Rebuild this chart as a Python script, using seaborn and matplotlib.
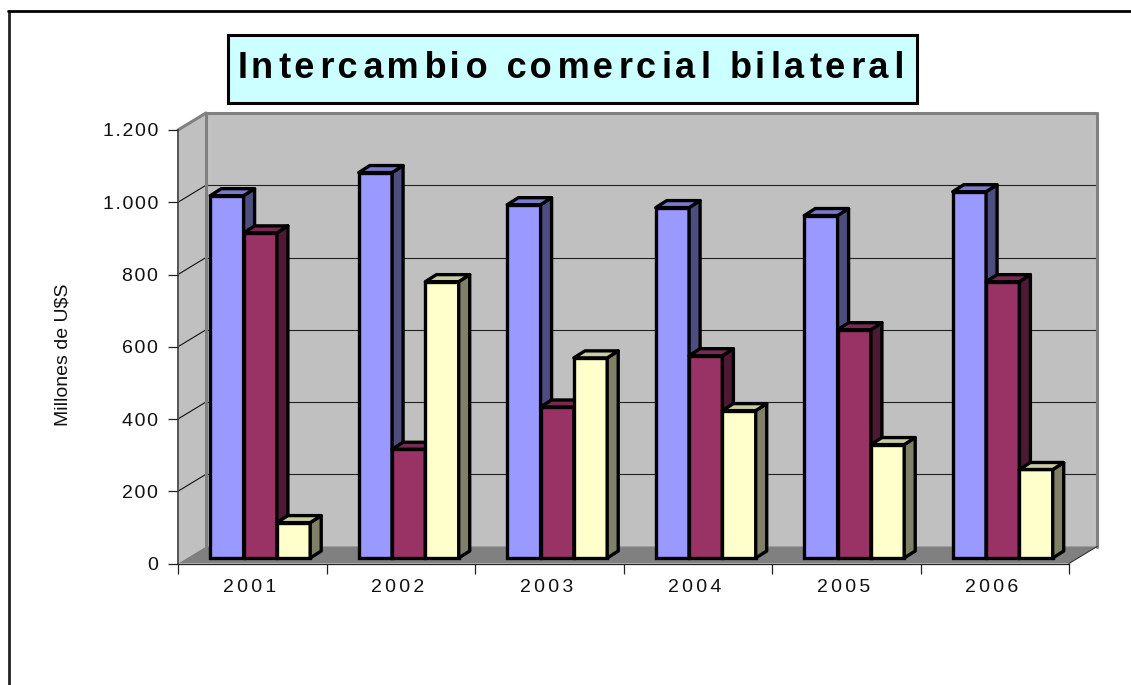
import numpy as np
import pandas as pd
import matplotlib
matplotlib.use("Agg")
import matplotlib.pyplot as plt
import seaborn as sns
from matplotlib.lines import Line2D
from matplotlib.patches import Polygon, Rectangle
from matplotlib.transforms import Affine2D, IdentityTransform

years = ["2001", "2002", "2003", "2004", "2005", "2006"]
series_a = [1003, 1067, 978, 970, 948, 1014]
series_b = [900, 301, 418, 560, 632, 765]
series_c = [98, 765, 554, 408, 314, 245]
y_ticks = [0, 200, 400, 600, 800, 1000, 1200]
y_tick_labels = ["0", "200", "400", "600", "800", "1.000", "1.200"]
title = "Intercambio comercial bilateral"
y_title = "Millones de U$S"

front_colors = ["#9999FF", "#993366", "#FFFFCC"]
side_colors = ["#4D4D80", "#4D1933", "#808066"]
top_colors = ["#7A7ACC", "#7A2952", "#CCCCA3"]

W, H = 1131, 685
sns.set_style("white")
plt.rcParams["font.family"] = ["Liberation Sans", "DejaVu Sans"]


def spaced(s, sp="\u200a"):
    return sp.join(s)


def spaced_alt(s):
    # every other gap is doubled, the hair space alone is too narrow for the title
    out = ""
    for i, c in enumerate(s[:-1]):
        out += c + ("\u200a\u200a" if i % 2 else "\u200a")
    return out + s[-1]


df = pd.DataFrame({
    "year": years * 3,
    "value": series_a + series_b + series_c,
    "serie": ["a"] * 6 + ["b"] * 6 + ["c"] * 6,
})

fig = plt.figure(figsize=(W / 100, H / 100), dpi=100)
ax = fig.add_axes([178 / W, (H - 563.5) / H, 891 / W, 433.5 / H])

sns.barplot(data=df, x="year", y="value", hue="serie", palette=front_colors,
            width=0.673, saturation=1, edgecolor="black", linewidth=2.4,
            legend=False, ax=ax)
ax.set_xlim(-0.5, 5.5)
ax.set_ylim(0, 1200)
ax.set_facecolor("none")


def px(x, y, dx=0, dy=0):
    p = ax.transData.transform((x, y))
    return (p[0] + dx, p[1] + dy)


def poly(points, color, z, edge="none", lw=0):
    ax.add_patch(Polygon(points, closed=True, facecolor=color, edgecolor=edge, linewidth=lw,
                         transform=IdentityTransform(), clip_on=False, zorder=z, joinstyle="round"))


def seg(a, b, color, lw, z):
    ax.add_line(Line2D([a[0], b[0]], [a[1], b[1]], color=color, linewidth=lw,
                       transform=IdentityTransform(), clip_on=False, zorder=z))


# walls and floor of the 3d box
wx, wy = 28, 17
x0, x1 = -0.5, 5.5
poly([px(x0, 0), px(x0, 1200), px(x0, 1200, wx, wy), px(x0, 0, wx, wy)], "#C0C0C0", 0.1)
poly([px(x0, 0, wx, wy), px(x0, 1200, wx, wy), px(x1, 1200, wx, wy), px(x1, 0, wx, wy)], "#C0C0C0", 0.1)
poly([px(x0, 0), px(x1, 0), px(x1, 0, wx, wy), px(x0, 0, wx, wy)], "#808080", 0.2)

for v in y_ticks[1:-1]:
    seg(px(x0, v), px(x0, v, wx, wy), "#111111", 0.8, 0.3)
    seg(px(x0, v, wx, wy), px(x1, v, wx, wy), "#222222", 0.8, 0.3)

seg(px(x0, 1200), px(x0, 1200, wx, wy), "#808080", 2.2, 0.4)
seg(px(x0, 1200, wx, wy), px(x1, 1200, wx, wy), "#808080", 2.2, 0.4)
seg(px(x0, 0, wx, wy), px(x0, 1200, wx, wy), "#808080", 2.2, 0.4)
seg(px(x1, 0, wx, wy), px(x1, 1200, wx, wy), "#808080", 2.2, 0.4)
seg(px(x1, 0), px(x1, 0, wx, wy), "#333333", 0.8, 0.4)

# bars: move the seaborn fronts into the box, then add side and top faces
bx, by = 8, 5.5
dx, dy = 11, 7
shift = ax.transData + Affine2D().translate(bx, by)
bars = [p for p in ax.patches if isinstance(p, Rectangle)]
order = sorted(range(len(bars)), key=lambda i: bars[i].get_x())
z = 1.0
for i in order:
    b = bars[i]
    k = i // 6
    x_l, x_r, h = b.get_x(), b.get_x() + b.get_width(), b.get_height()
    b.set_transform(shift)
    b.set_clip_on(False)
    b.set_zorder(z)
    side = [px(x_r, 0, bx, by), px(x_r, h, bx, by), px(x_r, h, bx + dx, by + dy), px(x_r, 0, bx + dx, by + dy)]
    top = [px(x_l, h, bx, by), px(x_l, h, bx + dx, by + dy), px(x_r, h, bx + dx, by + dy), px(x_r, h, bx, by)]
    poly(side, side_colors[k], z + 0.01, "black", 2.4)
    poly(top, top_colors[k], z + 0.02, "black", 2.4)
    z += 0.1

sns.despine(ax=ax, top=True, right=True)
ax.spines["left"].set_color("#555555")
ax.spines["left"].set_linewidth(1.4)
ax.spines["bottom"].set_color("#222222")
ax.spines["bottom"].set_linewidth(0.9)
ax.spines["left"].set_zorder(0.5)
ax.spines["bottom"].set_zorder(0.5)

ax.set_yticks(y_ticks)
ax.set_yticklabels([spaced(t) for t in y_tick_labels], fontsize=14, color="#111111")
ax.tick_params(axis="y", left=True, length=7.2, width=0.9, color="#222222", pad=7)
ax.set_xticks(range(6))
ax.set_xticklabels([spaced(t, "\u200a\u200a") for t in years], fontsize=14, color="#111111")
ax.set_xticks(np.arange(-0.5, 6), minor=True)
ax.tick_params(axis="x", which="major", bottom=False, length=0, pad=11.5)
ax.tick_params(axis="x", which="minor", bottom=True, length=7.2, width=0.9, color="#222222")
for lab in ax.get_xticklabels():
    lab.set_transform(lab.get_transform() + Affine2D().translate(-3, 0))
ax.set_xlabel("")
ax.set_ylabel("")
fig.text(63 / W, (H - 355) / H, y_title, rotation=90, ha="center", va="center",
         fontsize=14, color="#111111")

# page frame and title box
fig.add_artist(Line2D([9 / W, 9 / W], [0, (H - 11) / H], color="#222222", linewidth=2, transform=fig.transFigure))
fig.add_artist(Line2D([8 / W, 1], [(H - 11) / H, (H - 11) / H], color="black", linewidth=2, transform=fig.transFigure))
fig.add_artist(Rectangle((228 / W, (H - 103) / H), 689 / W, 68 / H, facecolor="#CCFFFF", edgecolor="black",
                         linewidth=2.2, transform=fig.transFigure))
fig.text(571 / W, (H - 69) / H, spaced_alt(title), ha="center", va="center", fontsize=26,
         fontweight="bold", color="black")

fig.savefig("out.png", dpi=100)
